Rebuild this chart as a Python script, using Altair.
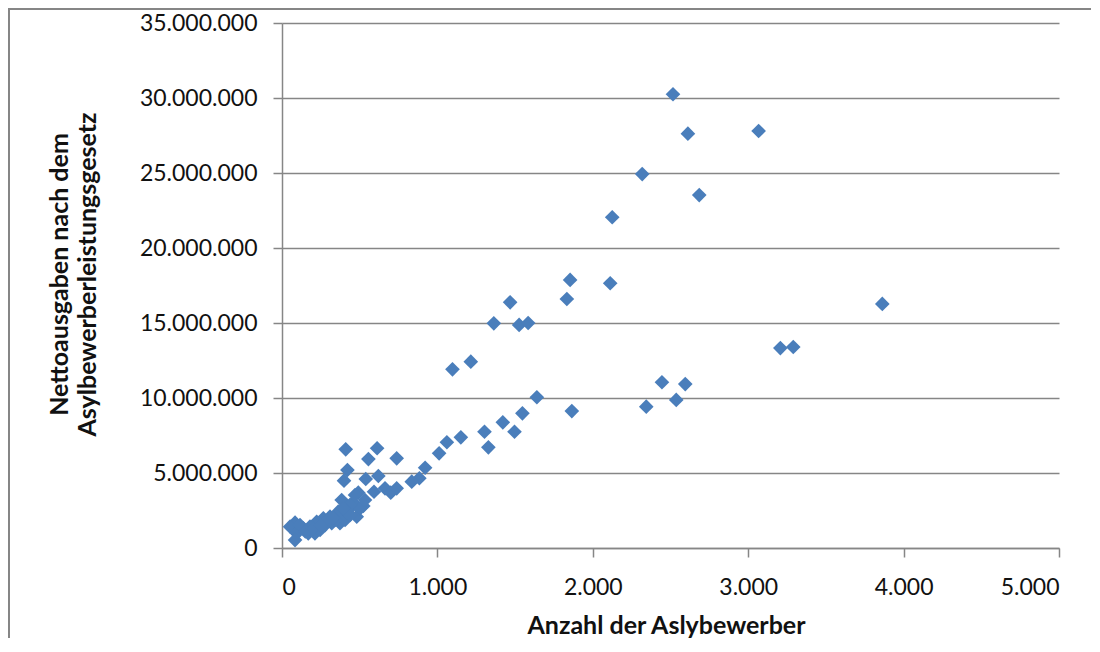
import altair as alt
import pandas as pd

# Anzahl der Asylbewerber (x) and Nettoausgaben (y)
x_vals = [2516, 2612, 3067, 2318, 2685, 2125, 2112, 1854, 1833, 1468,
          1363, 1526, 1584, 1097, 1215, 3863, 3207, 3290, 2445, 2595,
          2344, 2537, 1865, 1640, 1547, 1421, 1496, 1303, 1328, 1151,
          1061, 1011, 921, 884, 835,
          410, 612, 556, 738, 421, 399, 539, 620, 592, 663,
          700, 738, 491, 384, 459, 523, 427, 362, 309, 373,
          266, 223, 180, 137, 84, 52, 95, 84, 169, 212,
          245, 320, 406, 481, 502, 438, 116, 470, 534, 352,
          277, 341, 438, 395, 290, 150, 200, 250, 330]
y_vals = [30250000, 27620000, 27800000, 24930000, 23530000, 22050000, 17650000, 17870000, 16600000, 16380000,
          14980000, 14870000, 15000000, 11910000, 12420000, 16270000, 13330000, 13400000, 11050000, 10930000,
          9420000, 9870000, 9130000, 10050000, 8980000, 8380000, 7750000, 7750000, 6710000, 7380000,
          7050000, 6310000, 5350000, 4650000, 4420000,
          6580000, 6650000, 5930000, 5980000, 5200000, 4490000, 4600000, 4800000, 3750000, 3980000,
          3690000, 3980000, 3690000, 3200000, 3020000, 2800000, 2530000, 2420000, 2090000, 1650000,
          1980000, 1750000, 1420000, 1310000, 1690000, 1420000, 980000, 530000, 980000, 980000,
          1200000, 1650000, 1870000, 2090000, 2640000, 2870000, 1530000, 3530000, 3200000, 2200000,
          1530000, 1870000, 2200000, 2650000, 1800000, 1100000, 1300000, 1500000, 2000000]

x_ticks = [0, 1000, 2000, 3000, 4000, 5000]
y_ticks = [0, 5000000, 10000000, 15000000, 20000000, 25000000, 30000000, 35000000]

df = pd.DataFrame({"asylbewerber": x_vals, "nettoausgaben": y_vals})

W, H = 777, 525
PAD_L, PAD_T, PAD_R, PAD_B = 274, 15, 32, 90
GREY = "#868686"

frame_left = alt.Chart(df).mark_rule(color=GREY, strokeWidth=1.5).encode(
    x=alt.value(-PAD_L + 0.8), y=alt.value(-PAD_T), y2=alt.value(H + PAD_B)
)
frame_top = alt.Chart(df).mark_rule(color=GREY, strokeWidth=1.5).encode(
    x=alt.value(-PAD_L), x2=alt.value(W + PAD_R), y=alt.value(-PAD_T + 0.8)
)

points = alt.Chart(df).mark_point(
    shape="diamond", filled=True, size=215, color="#4A7EBB", opacity=1
).encode(
    x=alt.X("asylbewerber:Q",
            scale=alt.Scale(domain=[0, 5000], nice=False, zero=True),
            axis=alt.Axis(title="Anzahl der Aslybewerber", values=x_ticks, format=",d",
                          grid=False, labelPadding=19, titleX=384, titleY=85,
                          titleBaseline="alphabetic")),
    y=alt.Y("nettoausgaben:Q",
            scale=alt.Scale(domain=[0, 35000000], nice=False),
            axis=alt.Axis(title=["Nettoausgaben nach dem", "Asylbewerberleistungsgesetz"],
                          values=y_ticks, format=",d", grid=True, labelPadding=16,
                          titleX=-215, titleY=251, titleBaseline="alphabetic",
                          titleAngle=270, titleLineHeight=28))
)

chart = alt.layer(frame_left, frame_top, points).properties(
    width=W, height=H,
    autosize=alt.AutoSizeParams(type="none"),
    padding={"left": PAD_L, "top": PAD_T, "right": PAD_R, "bottom": PAD_B},
    background="white"
).configure(
    locale={"number": {"decimal": ",", "thousands": ".", "grouping": [3], "currency": ["", " €"]}}
).configure_view(strokeWidth=0).configure_axis(
    domainColor=GREY, domainWidth=1.5, tickColor=GREY, tickWidth=1.5, tickSize=9,
    gridColor=GREY, gridWidth=1.5,
    labelFont="Lato", labelFontSize=23, labelColor="#111111",
    titleFont="Lato", titleFontWeight="bold", titleFontSize=25, titleColor="#111111"
)

chart.save("out.html", embed_options={"renderer": "svg", "actions": False})
